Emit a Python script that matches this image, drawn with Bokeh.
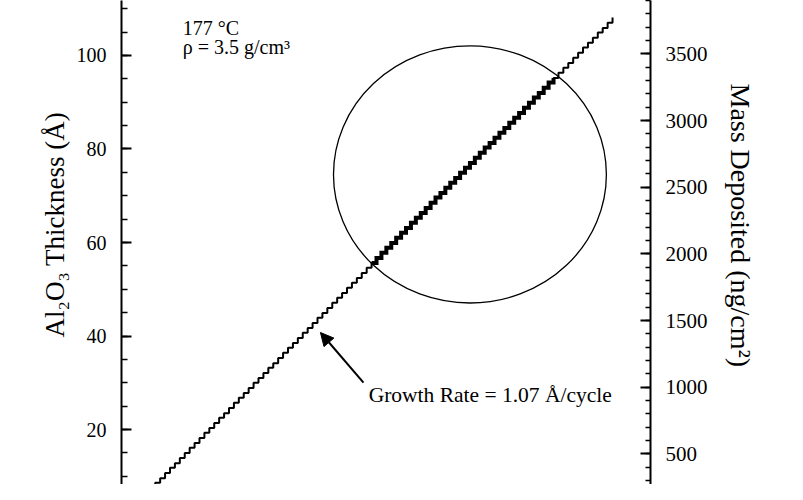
from bokeh.plotting import figure
from bokeh.models import Range1d, LinearAxis, SingleIntervalTicker, Arrow, NormalHead, Title
from bokeh.core.properties import value
from bokeh.embed import file_html
from bokeh.resources import INLINE

# ALD cycle number and Al2O3 thickness (Å) read from the staircase
cycles = list(range(5, 102))
thickness = [
    5.4, 6.4, 7.5, 8.6, 9.6, 10.7, 11.8, 12.8, 13.9, 15.0,
    16.1, 17.1, 18.2, 19.3, 20.3, 21.4, 22.5, 23.5, 24.6, 25.7,
    26.8, 27.8, 28.9, 30.0, 31.0, 32.1, 33.2, 34.2, 35.3, 36.4,
    37.5, 38.5, 39.6, 40.7, 41.7, 42.8, 43.9, 44.9, 46.0, 47.1,
    48.2, 49.2, 50.3, 51.4, 52.4, 53.5, 54.6, 55.6, 56.7, 57.8,
    58.9, 59.9, 61.0, 62.1, 63.1, 64.2, 65.3, 66.3, 67.4, 68.5,
    69.6, 70.6, 71.7, 72.8, 73.8, 74.9, 76.0, 77.0, 78.1, 79.2,
    80.3, 81.3, 82.4, 83.5, 84.5, 85.6, 86.7, 87.7, 88.8, 89.9,
    91.0, 92.0, 93.1, 94.2, 95.2, 96.3, 97.4, 98.4, 99.5, 100.6,
    101.7, 102.7, 103.8, 104.9, 105.9, 107.0, 108.1,
]
# highlighted (circled) portion of the run, as index bounds
highlight_start, highlight_end = 47, 85

annot_texts = ["177 °C", "ρ = 3.5 g/cm³"]
growth_text = ["Growth Rate = 1.07 Å/cycle"]
left_title = "Al₂O₃ Thickness (Å)"
right_title = "Mass Deposited (ng/cm²)"

FONT = "Liberation Serif"

p = figure(width=787, height=484,
           x_range=Range1d(1.14, 108.72), y_range=Range1d(8.24, 111.76),
           output_backend="svg", toolbar_location=None,
           x_axis_location=None, y_axis_location="left",
           min_border_left=121, min_border_right=137,
           min_border_top=0, min_border_bottom=0)
p.outline_line_color = None
p.xgrid.visible = False
p.ygrid.visible = False
p.background_fill_color = "white"
p.border_fill_color = "white"

p.extra_y_ranges = {"mass": Range1d(270, 3900)}

def style_axis(ax, size_lbl):
    ax.axis_line_color = "black"
    ax.axis_line_width = 2
    ax.major_tick_line_color = "black"
    ax.major_tick_line_width = 2
    ax.minor_tick_line_color = "black"
    ax.minor_tick_line_width = 1.5
    ax.major_tick_in = 10
    ax.major_tick_out = 0
    ax.minor_tick_in = 6
    ax.minor_tick_out = 0
    ax.major_label_text_font = FONT
    ax.major_label_text_font_size = size_lbl
    ax.major_label_text_color = "black"
    ax.major_label_standoff = 15

yl = p.yaxis[0]
yl.ticker = SingleIntervalTicker(interval=20, num_minor_ticks=4)
style_axis(yl, "20px")

yr = LinearAxis(y_range_name="mass",
                ticker=SingleIntervalTicker(interval=500, num_minor_ticks=5))
style_axis(yr, "21px")
yr.minor_tick_in = 5
p.add_layout(yr, "right")

# axis titles as side titles, offset to sit where the original has them
p.add_layout(Title(text=left_title, align="left", offset=147,
                   text_font=FONT, text_font_size="27px", text_font_style="normal",
                   text_color="black", vertical_align="middle", standoff=6), "left")
p.add_layout(Title(text=right_title, align="left", offset=83,
                   text_font=FONT, text_font_size="28px", text_font_style="normal",
                   text_color="black", vertical_align="middle", standoff=26), "right")

# staircase
p.step(cycles, thickness, mode="after", line_width=2, line_color="black")
p.step(cycles[highlight_start:highlight_end], thickness[highlight_start:highlight_end],
       mode="after", line_width=4, line_color="black", line_join="miter")

# circle highlighting the region
p.ellipse(x=72.0, y=74.55, width=55.5, height=55.0,
          fill_color=None, line_color="black", line_width=1.3)

# arrow and annotation texts
p.add_layout(Arrow(end=NormalHead(size=13, fill_color="black", line_color="black"),
                   x_start=50.35, y_start=30.05, x_end=41.6, y_end=40.75,
                   line_width=2, line_color="black"))

p.text(x=[13.6, 13.6], y=[105.8, 101.8], text=annot_texts,
       text_font=value(FONT), text_font_size="20px", text_color="black",
       text_baseline="alphabetic", text_align="left")
p.text(x=[51.4], y=[27.3], text=growth_text,
       text_font=value(FONT), text_font_size="21.5px", text_color="black",
       text_baseline="alphabetic", text_align="left")

open("out.html", "w").write(file_html(p, INLINE))
